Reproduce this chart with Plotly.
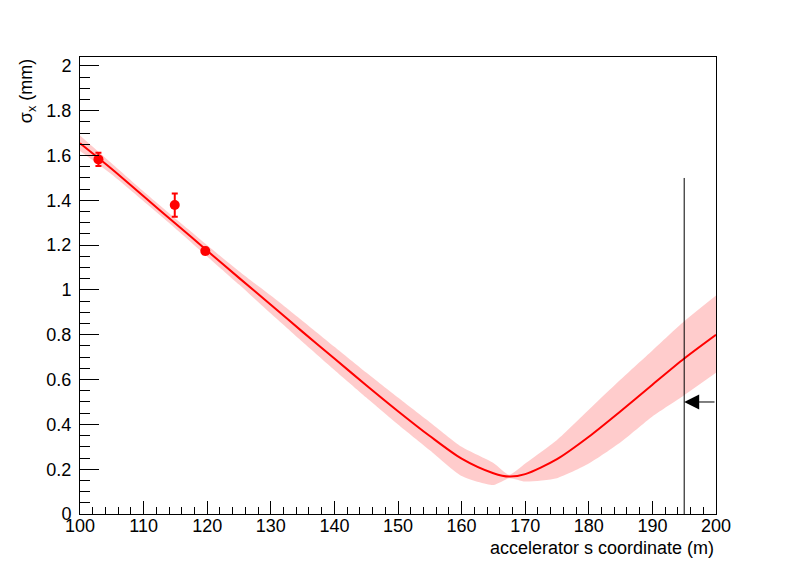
import plotly.graph_objects as go

# fitted beam-size curve (s in m, sigma in mm)
s_curve = [100, 105, 110, 115, 120, 125, 130, 135, 140, 145, 150, 155, 160, 165, 167.5, 170, 175, 180, 185, 190, 195, 200]
sig_center = [1.655, 1.540, 1.418, 1.297, 1.175, 1.054, 0.934, 0.813, 0.694, 0.575, 0.459, 0.348, 0.247, 0.182, 0.167, 0.178, 0.245, 0.345, 0.459, 0.577, 0.694, 0.800]
sig_upper = [1.690, 1.565, 1.440, 1.319, 1.200, 1.084, 0.975, 0.862, 0.747, 0.632, 0.520, 0.410, 0.300, 0.228, 0.175, 0.225, 0.330, 0.465, 0.600, 0.730, 0.860, 0.975]
sig_lower = [1.620, 1.515, 1.396, 1.275, 1.150, 1.024, 0.895, 0.768, 0.643, 0.520, 0.400, 0.285, 0.170, 0.130, 0.160, 0.145, 0.160, 0.225, 0.320, 0.435, 0.530, 0.630]

# measured points
s_meas = [102.9, 114.9, 119.7]
sig_meas = [1.583, 1.379, 1.174]
sig_err = [0.030, 0.052, 0.015]

# marker line and arrow
s_marker = [195, 195]
y_marker = [0, 1.5]
arrow_tail = (200, 0.5)
arrow_head = (195, 0.5)

x_range = [100, 200]
y_range = [0, 2.04]

FONT = "Liberation Sans, Arial, sans-serif"
FS = 18

fig = go.Figure()
fig.add_trace(go.Scatter(x=s_curve, y=sig_upper, mode="lines", line=dict(width=0, shape="spline", smoothing=0.6),
                         hoverinfo="skip", showlegend=False))
fig.add_trace(go.Scatter(x=s_curve, y=sig_lower, mode="lines", line=dict(width=0, shape="spline", smoothing=0.6),
                         fill="tonexty", fillcolor="rgba(255,0,0,0.2)", hoverinfo="skip", showlegend=False))
fig.add_trace(go.Scatter(x=s_curve, y=sig_center, mode="lines",
                         line=dict(color="#ff0000", width=2, shape="spline", smoothing=0.8), showlegend=False))
fig.add_trace(go.Scatter(x=s_meas, y=sig_meas, mode="markers",
                         marker=dict(color="#ff0000", size=10, symbol="circle"),
                         error_y=dict(type="data", array=sig_err, color="#ff0000", thickness=2, width=3),
                         showlegend=False))
fig.add_trace(go.Scatter(x=s_marker, y=y_marker, mode="lines",
                         line=dict(color="black", width=1), showlegend=False))

fig.add_annotation(x=arrow_head[0], y=arrow_head[1], ax=arrow_tail[0], ay=arrow_tail[1],
                   xref="x", yref="y", axref="x", ayref="y", text="", showarrow=True,
                   arrowhead=2, arrowsize=3, arrowwidth=1, arrowcolor="black", standoff=0, startstandoff=0)

fig.add_annotation(text="σ<sub>x</sub> (mm)", textangle=-90, xref="paper", yref="paper",
                   x=-0.083, y=1.0, xanchor="center", yanchor="top", showarrow=False,
                   font=dict(family=FONT, size=FS, color="black"))
fig.add_annotation(text="accelerator s coordinate (m)", xref="paper", yref="paper",
                   x=1.0, y=-0.074, xanchor="right", yanchor="middle", showarrow=False,
                   font=dict(family=FONT, size=FS, color="black"))

# page body has an 8px margin: figure is 780x556 so the page is 796x572
fig.update_layout(
    width=780, height=556,
    margin=dict(l=72, r=72, t=49, b=50),
    paper_bgcolor="white", plot_bgcolor="white",
    font=dict(family=FONT, size=FS, color="black"),
    showlegend=False,
)
fig.update_xaxes(range=x_range, dtick=10, tick0=100, ticks="inside", ticklen=13, tickwidth=1,
                 tickcolor="black", showline=True, linecolor="black", linewidth=1, mirror=True,
                 showgrid=False, zeroline=False, ticklabelstandoff=-5,
                 minor=dict(ticks="inside", ticklen=7, dtick=2, tickcolor="black", showgrid=False),
                 tickfont=dict(family=FONT, size=FS, color="black"))
fig.update_yaxes(range=y_range, dtick=0.2, tick0=0, ticks="inside", ticklen=19, tickwidth=1,
                 tickcolor="black", showline=True, linecolor="black", linewidth=1, mirror=True,
                 showgrid=False, zeroline=False, ticklabelstandoff=4,
                 minor=dict(ticks="inside", ticklen=10, dtick=0.05, tickcolor="black", showgrid=False),
                 tickfont=dict(family=FONT, size=FS, color="black"))

fig.write_html("out.html")
